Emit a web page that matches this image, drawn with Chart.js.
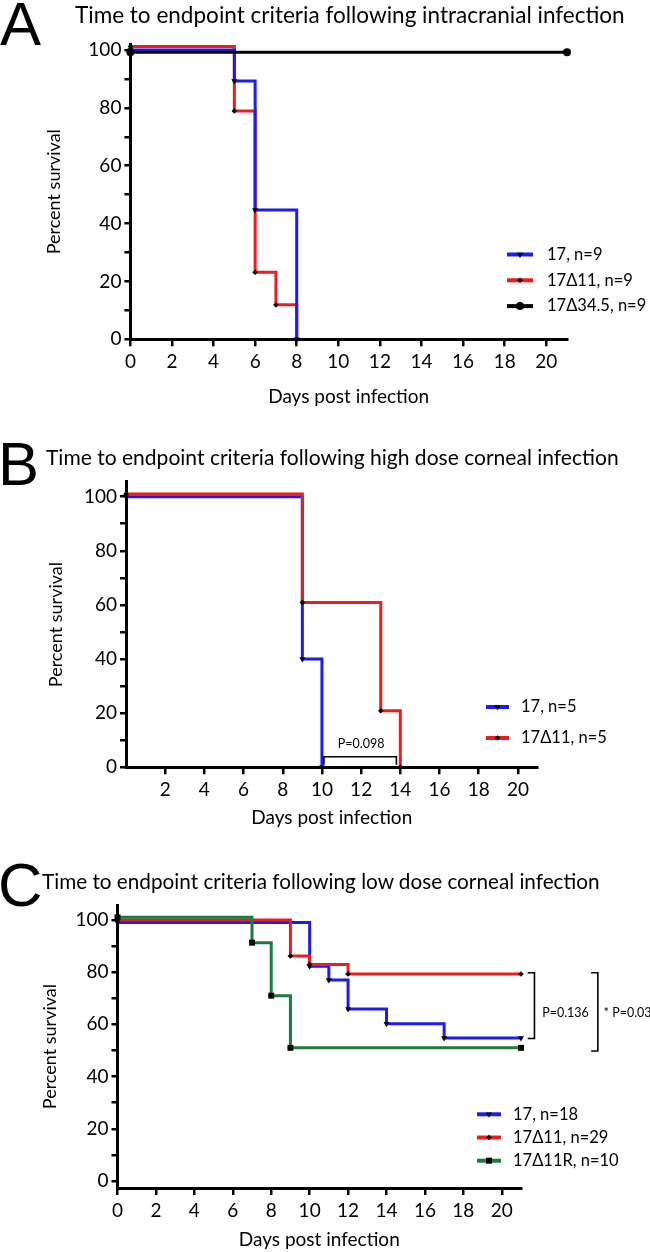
<!DOCTYPE html>
<html>
<head>
<meta charset="utf-8">
<script src="https://cdn.jsdelivr.net/npm/chart.js@4.4.0/dist/chart.umd.min.js"></script>
<style>
  body { margin: 0; background: #fff; width: 650px; height: 1252px; position: relative; overflow: hidden; font-family: Lato, sans-serif; }
  .panel { position: absolute; left: 0; width: 650px; }
  .letter { position: absolute; font-family: "Liberation Sans", Arial, sans-serif; font-size: 61.5px; line-height: 61.5px; color: #000; z-index: 2; }
  .title { position: absolute; font-size: 20px; line-height: 20px; white-space: nowrap; color: #000; z-index: 2; }
</style>
</head>
<body>

<div class="letter" style="left:0;top:-7px">A</div>
<div class="title" data-w="550" data-base="23.5" style="left:75px">Time to endpoint criteria following intracranial infection</div>
<div class="panel" style="top:0;height:420px"><canvas id="chartA"></canvas></div>

<div class="letter" style="left:-2px;top:433px">B</div>
<div class="title" data-w="573" data-base="465.5" style="left:46px">Time to endpoint criteria following high dose corneal infection</div>
<div class="panel" style="top:420px;height:420px"><canvas id="chartB"></canvas></div>

<div class="letter" style="left:-2px;top:854px">C</div>
<div class="title" data-w="558" data-base="889.5" style="left:42px">Time to endpoint criteria following low dose corneal infection</div>
<div class="panel" style="top:840px;height:412px"><canvas id="chartC"></canvas></div>

<script>
// Panel A - intracranial infection
const daysA_17 = [0, 5, 6, 8];
const survA_17 = [100, 89.3, 44.7, 0];
const daysA_d11 = [0, 5, 6, 7, 8];
const survA_d11 = [101.2, 78.9, 23.2, 11.9, 0];
const daysA_d345 = [0, 21];
const survA_d345 = [99.2, 99.2];
const labelsA = ['17, n=9', '17Δ11, n=9', '17Δ34.5, n=9'];

// Panel B - high dose corneal
const daysB_17 = [0, 9, 10];
const survB_17 = [100, 40, 0];
const daysB_d11 = [0, 9, 13, 14];
const survB_d11 = [101, 60.9, 20.9, 0];
const labelsB = ['17, n=5', '17Δ11, n=5'];

// Panel C - low dose corneal
const daysC_17 = [0, 10, 11, 12, 14, 17, 21];
const survC_17 = [99, 82.3, 77, 65.9, 60.2, 54.8, 54.8];
const daysC_d11 = [0, 9, 10, 12, 21];
const survC_d11 = [100, 86.2, 82.9, 79.3, 79.3];
const daysC_d11R = [0, 7, 8, 9, 21];
const survC_d11R = [101, 91.3, 71, 51, 51];
const labelsC = ['17, n=18', '17Δ11, n=29', '17Δ11R, n=10'];

// tick labels
const xTicksA = [0, 2, 4, 6, 8, 10, 12, 14, 16, 18, 20];
const xTicksB = [2, 4, 6, 8, 10, 12, 14, 16, 18, 20];
const xTicksC = [0, 2, 4, 6, 8, 10, 12, 14, 16, 18, 20];
const yTicks = [0, 10, 20, 30, 40, 50, 60, 70, 80, 90, 100];

// p value brackets: [day, survival] corners
const bracketB = [[10.1, 0.9], [10.1, 3.9], [13.8, 3.9], [13.8, 0.9]];
const pTextB = ['P=0.098', 12.0, 8.6];
const bracketC1 = [[21.35, 79.8], [21.7, 79.8], [21.7, 54.6], [21.35, 54.6]];
const pTextC1 = ['P=0.136', 22.1, 64.3];
const bracketC2 = [[24.65, 79.8], [25.0, 79.8], [25.0, 49.8], [24.65, 49.8]];
const pTextC2 = ['* P=0.03', 25.3, 64.3];

const BLUE = '#1c1cf0';
const RED = '#f01c1c';
const BLACK = '#000000';
const GREEN = '#1d7b3d';

// fit the panel titles to the width they take in the figure
document.querySelectorAll('.title').forEach(el => {
  const w = el.getBoundingClientRect().width;
  const fs = 20 * Number(el.dataset.w) / w;
  el.style.fontSize = fs + 'px';
  el.style.top = (Number(el.dataset.base) - 10 - 0.387 * fs) + 'px';
});

function series(label, days, surv, color, shape, radius, rot, order) {
  return {
    label: label,
    data: days.map((d, i) => ({ x: d, y: surv[i] })),
    borderColor: color,
    backgroundColor: color,
    borderWidth: 3,
    stepped: true,
    pointStyle: shape,
    pointRadius: radius,
    pointRotation: rot,
    pointBackgroundColor: '#000',
    pointBorderColor: '#000',
    pointBorderWidth: 0,
    clip: false,
    order: order
  };
}

const kmLegend = {
  id: 'kmLegend',
  afterDraw(chart, args, o) {
    const ctx = chart.ctx;
    chart.data.datasets.forEach((d, i) => {
      const y = o.y + i * o.gap;
      ctx.save();
      ctx.strokeStyle = d.borderColor;
      ctx.lineWidth = 4;
      ctx.beginPath();
      ctx.moveTo(o.x, y);
      ctx.lineTo(o.x + o.len, y);
      ctx.stroke();
      ctx.fillStyle = '#000';
      ctx.strokeStyle = '#000';
      Chart.helpers.drawPoint(ctx, { pointStyle: d.pointStyle, rotation: d.pointRotation, radius: d.pointRadius, borderWidth: 0 }, o.x + o.len / 2, y);
      ctx.font = '16.5px Lato';
      ctx.textBaseline = 'middle';
      ctx.textAlign = 'left';
      ctx.fillText(d.label, o.tx, y);
      ctx.restore();
    });
  }
};

const pBrackets = {
  id: 'pBrackets',
  afterDraw(chart, args, o) {
    const { ctx, scales: { x, y } } = chart;
    ctx.save();
    ctx.strokeStyle = '#000';
    ctx.fillStyle = '#000';
    ctx.lineWidth = 1.6;
    ctx.font = '12.5px Lato';
    ctx.textBaseline = 'middle';
    (o.items || []).forEach(it => {
      ctx.beginPath();
      it.pts.forEach((p, k) => {
        const px = x.getPixelForValue(p[0]), py = y.getPixelForValue(p[1]);
        if (k === 0) ctx.moveTo(px, py); else ctx.lineTo(px, py);
      });
      ctx.stroke();
      ctx.textAlign = it.align;
      ctx.fillText(it.text[0], x.getPixelForValue(it.text[1]), y.getPixelForValue(it.text[2]));
    });
    ctx.restore();
  }
};

function makeScales(xTicks, yMin, yMax, lay) {
  return {
    x: {
      type: 'linear', min: 0, max: 21,
      afterBuildTicks: s => { s.ticks = xTicks.map(v => ({ value: v })); },
      afterFit: s => { s.height = lay.xH; },
      ticks: { color: '#000', font: { family: 'Lato', size: 19 }, padding: 4, autoSkip: false, maxRotation: 0, callback: v => String(v) },
      grid: { drawOnChartArea: false, drawTicks: true, tickLength: 7, color: '#000', lineWidth: 2.5 },
      border: { color: '#000', width: 3 },
      title: { display: true, text: 'Days post infection', color: '#000', font: { family: 'Lato', size: 19 }, padding: { top: 0, bottom: lay.xTitlePad } }
    },
    y: {
      type: 'linear', min: yMin, max: yMax,
      afterBuildTicks: s => { s.ticks = yTicks.map(v => ({ value: v })); },
      afterFit: s => { s.width = lay.yW; },
      ticks: { color: '#000', font: { family: 'Lato', size: 19 }, padding: 3, autoSkip: false, callback: v => (v % 20 === 0 ? String(v) : '') },
      grid: { drawOnChartArea: false, drawTicks: true, tickLength: 6, color: '#000', lineWidth: 2.5 },
      border: { color: '#000', width: 3 },
      title: { display: true, text: 'Percent survival', color: '#000', font: { family: 'Lato', size: 18 }, padding: { top: 3.2, bottom: 0 } }
    }
  };
}

function baseOptions(lay, scales, legendPos, brackets) {
  return {
    responsive: true,
    maintainAspectRatio: false,
    animation: false,
    layout: { padding: { left: lay.L, right: lay.R, top: lay.T, bottom: lay.B } },
    scales: scales,
    plugins: {
      legend: { display: false },
      tooltip: { enabled: false },
      kmLegend: legendPos,
      pBrackets: { items: brackets }
    }
  };
}

// A
const layA = { L: 40, R: 83, T: 44.2, B: 10.7, yW: 90.4, xH: 70, xTitlePad: 0.9 };
new Chart(document.getElementById('chartA'), {
  type: 'line',
  data: {
    datasets: [
      series(labelsA[0], daysA_17, survA_17, BLUE, 'triangle', 3.5, 180, 1),
      series(labelsA[1], daysA_d11, survA_d11, RED, 'rectRot', 2.8, 0, 2),
      series(labelsA[2], daysA_d345, survA_d345, BLACK, 'circle', 4, 0, 0)
    ]
  },
  options: baseOptions(layA, makeScales(xTicksA, 0, 102, layA), { x: 507, y: 254.5, gap: 25.8, len: 26, tx: 547 }, []),
  plugins: [kmLegend, pBrackets]
});

// B
const layB = { L: 42, R: 112.5, T: 61.8, B: 2.7, yW: 84, xH: 70, xTitlePad: 7.9 };
new Chart(document.getElementById('chartB'), {
  type: 'line',
  data: {
    datasets: [
      series(labelsB[0], daysB_17, survB_17, BLUE, 'triangle', 3.5, 180, 1),
      series(labelsB[1], daysB_d11, survB_d11, RED, 'rectRot', 2.8, 0, 0)
    ]
  },
  options: baseOptions(layB, makeScales(xTicksB, 0, 105.5, layB), { x: 486, y: 287, gap: 31, len: 23, tx: 521 },
    [{ pts: bracketB, text: pTextB, align: 'center' }]),
  plugins: [kmLegend, pBrackets]
});

// C
const layC = { L: 36, R: 129, T: 65.1, B: 1.2, yW: 81.5, xH: 62.8, xTitlePad: 0 };
new Chart(document.getElementById('chartC'), {
  type: 'line',
  data: {
    datasets: [
      series(labelsC[0], daysC_17, survC_17, BLUE, 'triangle', 3.5, 180, 2),
      series(labelsC[1], daysC_d11, survC_d11, RED, 'rectRot', 2.8, 0, 1),
      series(labelsC[2], daysC_d11R, survC_d11R, GREEN, 'rect', 4.2, 0, 0)
    ]
  },
  options: baseOptions(layC, makeScales(xTicksC, -2.7, 105.7, layC), { x: 477, y: 274.3, gap: 23.2, len: 24, tx: 513 },
    [{ pts: bracketC1, text: pTextC1, align: 'left' }, { pts: bracketC2, text: pTextC2, align: 'left' }]),
  plugins: [kmLegend, pBrackets]
});
</script>
</body>
</html>
